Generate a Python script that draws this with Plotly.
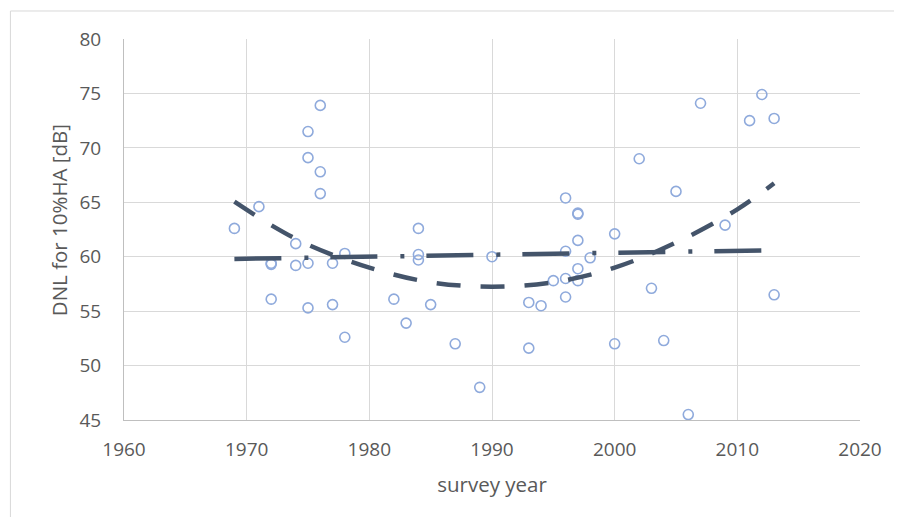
import plotly.graph_objects as go

# survey data
survey_year = [1969, 1971, 1972, 1972, 1972, 1974, 1974, 1975, 1975, 1975, 1975,
               1976, 1976, 1976, 1977, 1977, 1978, 1978,
               1982, 1983, 1984, 1984, 1984, 1985, 1987, 1989, 1990,
               1993, 1993, 1994, 1995, 1996, 1996, 1996, 1996,
               1997, 1997, 1997, 1997, 1997, 1998,
               2000, 2000, 2002, 2003, 2004, 2005, 2006, 2007, 2009,
               2011, 2012, 2013, 2013]
dnl_10ha = [62.6, 64.6, 59.3, 59.4, 56.1, 61.2, 59.2, 71.5, 69.1, 59.4, 55.3,
            73.9, 67.8, 65.8, 59.4, 55.6, 60.3, 52.6,
            56.1, 53.9, 62.6, 60.2, 59.7, 55.6, 52.0, 48.0, 60.0,
            55.8, 51.6, 55.5, 57.8, 65.4, 60.5, 58.0, 56.3,
            64.0, 63.9, 61.5, 58.9, 57.8, 59.9,
            62.1, 52.0, 69.0, 57.1, 52.3, 66.0, 45.5, 74.1, 62.9,
            72.5, 74.9, 72.7, 56.5]

# linear trendline at its ends
lin_year = [1969, 2013]
lin_dnl = [59.8, 60.6]

# polynomial trendline
poly_year = [1969, 1972, 1975, 1980, 1985, 1990, 1995, 2000, 2005, 2010, 2013]
poly_dnl = [65.05, 62.9, 61.1, 59.0, 57.65, 57.25, 57.65, 59.0, 61.3, 64.35, 66.75]

x_ticks = [1960, 1970, 1980, 1990, 2000, 2010, 2020]
y_ticks = [45, 50, 55, 60, 65, 70, 75, 80]

x_title = "survey year"
y_title = "DNL for 10%HA [dB]"

TXT = "#595959"
FONT = "Open Sans"
LINE = "#44546A"
FS = 19
FT = 20.5

fig = go.Figure()
fig.add_trace(go.Scatter(
    x=survey_year, y=dnl_10ha, mode="markers",
    marker=dict(symbol="circle-open", size=10, color="#8FAADC",
                line=dict(width=1.6, color="#8FAADC")),
    showlegend=False, hoverinfo="x+y"))
fig.add_trace(go.Scatter(
    x=lin_year, y=lin_dnl, mode="lines",
    line=dict(color=LINE, width=4.5, dash="47px,23px,4px,22px"),
    showlegend=False))
fig.add_trace(go.Scatter(
    x=poly_year, y=poly_dnl, mode="lines",
    line=dict(color=LINE, width=4.5, dash="24px,20px", shape="spline",
              smoothing=1.0),
    showlegend=False))

fig.update_layout(
    width=886, height=509,
    margin=dict(l=116, r=31, t=31, b=97),
    paper_bgcolor="white", plot_bgcolor="white",
    font=dict(family=FONT, size=FS, color=TXT),
    shapes=[dict(type="rect", xref="paper", yref="paper",
                 x0=-0.1543, x1=1.2, y0=-0.5, y1=1.0735,
                 line=dict(color="#D9D9D9", width=1), layer="below")],
    annotations=[dict(text=y_title, textangle=-90, xref="paper", yref="paper",
                      x=-0.088, y=0.525, xanchor="center", yanchor="middle",
                      showarrow=False,
                      font=dict(family=FONT, size=FT, color=TXT))],
)
fig.update_xaxes(
    range=[1960, 2020], tickvals=x_ticks, ticks="",
    showgrid=True, gridcolor="#D9D9D9", gridwidth=1,
    showline=True, linecolor="#BFBFBF", linewidth=1,
    zeroline=False, ticklabelstandoff=12,
    title=dict(text=x_title, standoff=16,
               font=dict(family=FONT, size=FT, color=TXT)),
    tickfont=dict(family=FONT, size=FS, color=TXT))
fig.update_yaxes(
    range=[45, 80], tickvals=y_ticks, ticks="",
    showgrid=True, gridcolor="#D9D9D9", gridwidth=1,
    showline=True, linecolor="#BFBFBF", linewidth=1,
    zeroline=False, ticklabelstandoff=18,
    tickfont=dict(family=FONT, size=FS, color=TXT))

fig.write_html("out.html")
